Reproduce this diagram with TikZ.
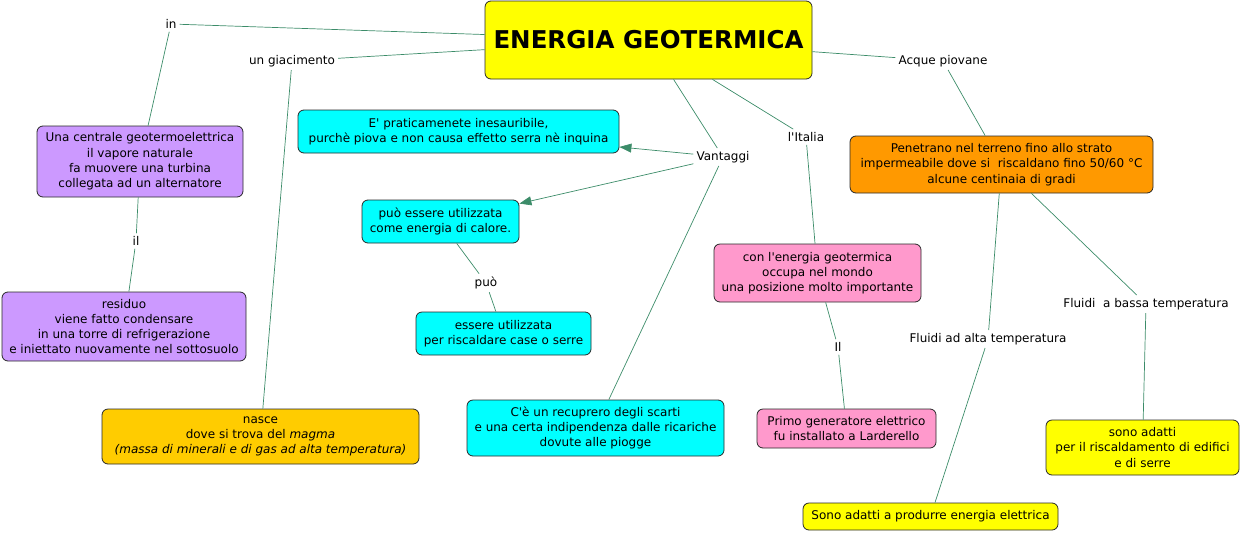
\documentclass[tikz,border=0pt]{standalone}
\usepackage{fontspec}
\setmainfont{DejaVu Sans}
\usetikzlibrary{arrows.meta}
\newcommand\aq{\textquotesingle}
\definecolor{lnk}{RGB}{60,140,105}
\definecolor{cyanb}{RGB}{0,255,255}
\definecolor{yelb}{RGB}{255,255,0}
\definecolor{purb}{RGB}{204,153,255}
\definecolor{goldb}{RGB}{255,204,0}
\definecolor{pinkb}{RGB}{255,153,204}
\definecolor{orab}{RGB}{255,153,0}
\definecolor{bord}{RGB}{40,40,40}
\begin{document}
\begin{tikzpicture}[x=1pt,y=-1pt,
  box/.style={draw=bord,line width=0.8pt,rounded corners=6pt,align=center,inner sep=2pt,
    font=\fontsize{12}{15.3}\selectfont},
  lab/.style={inner sep=3pt,font=\fontsize{12}{15}\selectfont},
  conn/.style={draw=lnk,line width=0.7pt},
  arr/.style={conn,-{Triangle[length=12pt,width=9pt]},color=lnk}]
\useasboundingbox (0,0) rectangle (1241,533);
% boxes
\node[box,fill=yelb,minimum width=327pt,minimum height=78pt,font=\fontsize{24.5}{28}\selectfont\bfseries] (main) at (648.5,40) {ENERGIA GEOTERMICA};
\node[box,fill=cyanb,minimum width=321pt,minimum height=43pt] (c1) at (458.5,131.5) {E\aq{} praticamenete inesauribile,\\purchè piova e non causa effetto serra nè inquina};
\node[box,fill=purb,minimum width=206pt,minimum height=71pt] (p1) at (140,161.5) {Una centrale geotermoelettrica\\il vapore naturale\\fa muovere una turbina\\collegata ad un alternatore};
\node[box,fill=purb,minimum width=244pt,minimum height=69pt] (p2) at (124,326.5) {residuo\\viene fatto condensare\\in una torre di refrigerazione\\e iniettato nuovamente nel sottosuolo};
\node[box,fill=goldb,minimum width=317pt,minimum height=55pt] (nas) at (260.5,436.5) {nasce\\dove si trova del \textit{magma}\\\textit{(massa di minerali e di gas ad alta temperatura)}};
\node[box,fill=cyanb,minimum width=157pt,minimum height=43pt] (c2) at (440.5,221.5) {può essere utilizzata\\come energia di calore.};
\node[box,fill=cyanb,minimum width=175pt,minimum height=43pt] (c3) at (503.5,333.5) {essere utilizzata\\per riscaldare case o serre};
\node[box,fill=cyanb,minimum width=257pt,minimum height=56pt] (c4) at (595.5,428) {C\aq{}è un recuprero degli scarti\\e una certa indipendenza dalle ricariche\\dovute alle piogge};
\node[box,fill=pinkb,minimum width=207pt,minimum height=58pt] (k1) at (817.5,273) {con l\aq{}energia geotermica\\occupa nel mondo\\una posizione molto importante};
\node[box,fill=pinkb,minimum width=179pt,minimum height=39pt] (k2) at (846.5,428.5) {Primo generatore elettrico\\fu installato a Larderello};
\node[box,fill=orab,minimum width=303pt,minimum height=57pt] (or) at (1001.5,164.5) {Penetrano nel terreno fino allo strato\\impermeabile dove si\ \ riscaldano fino 50/60 °C\\alcune centinaia di gradi};
\node[box,fill=yelb,minimum width=193pt,minimum height=55pt] (y1) at (1142.5,447.5) {sono adatti\\per il riscaldamento di edifici\\e di serre};
\node[box,fill=yelb,minimum width=255pt,minimum height=27pt] (y2) at (930.5,516.5) {Sono adatti a produrre energia elettrica};
% labels
\node[lab] (lin) at (171,24) {in};
\node[lab] (lgia) at (292,61) {un giacimento};
\node[lab] (lvan) at (723,157) {Vantaggi};
\node[lab] (lita) at (806,137) {l\aq{}Italia};
\node[lab] (lacq) at (943,61) {Acque piovane};
\node[lab] (lil) at (136,241) {il};
\node[lab] (lpuo) at (486,283) {può};
\node[lab] (lIl) at (838,347) {Il};
\node[lab] (lalt) at (988,339) {Fluidi ad alta temperatura};
\node[lab] (lbas) at (1146,304) {Fluidi\ \ a bassa temperatura};
% connectors
\draw[conn] (main) -- (lin);
\draw[conn] (lin) -- (p1);
\draw[conn] (main) -- (lgia);
\draw[conn] (lgia) -- (nas);
\draw[conn] (main) -- (lvan);
\draw[arr] (lvan) -- (c1);
\draw[arr] (lvan) -- (c2);
\draw[conn] (lvan) -- (c4);
\draw[conn] (main) -- (lita);
\draw[conn] (lita) -- (k1);
\draw[conn] (main) -- (lacq);
\draw[conn] (lacq) -- (or);
\draw[conn] (p1) -- (lil);
\draw[conn] (lil) -- (p2);
\draw[conn] (c2) -- (lpuo);
\draw[conn] (lpuo) -- (c3);
\draw[conn] (k1) -- (lIl);
\draw[conn] (lIl) -- (k2);
\draw[conn] (or) -- (lalt);
\draw[conn] (lalt) -- (y2);
\draw[conn] (or) -- (lbas);
\draw[conn] (lbas) -- (y1);
\end{tikzpicture}
\end{document}
